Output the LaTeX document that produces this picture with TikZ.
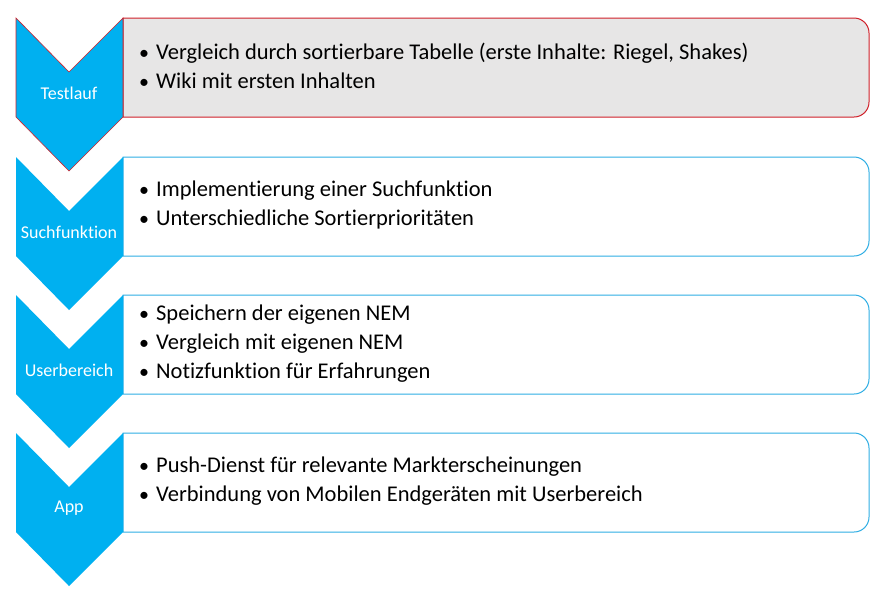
\documentclass[tikz,border=0pt]{standalone}
\usepackage{fontspec}
\setmainfont[Ligatures={NoCommon}]{Carlito}
\definecolor{chev}{HTML}{00B0F0}
\definecolor{boxblue}{HTML}{2FAEE4}
\definecolor{boxred}{HTML}{D0202A}
\definecolor{boxgrey}{HTML}{E7E6E6}
\tikzset{
  chevshape/.style={fill=chev, draw=none},
  boxshape/.style={draw=boxblue, line width=1pt, fill=white},
  boxfirst/.style={draw=boxred, line width=1pt, fill=boxgrey},
  chevlabel/.style={text=white, font=\fontsize{18}{21}\selectfont, anchor=center},
  itemtext/.style={anchor=west, align=left, font=\fontsize{22.5}{29}\selectfont, text=black, inner sep=0pt}
}
\newcommand{\chevpath}[1]{(16,#1) -- (69,#1+54) -- (123,#1) -- (123,#1+99) -- (69,#1+153) -- (16,#1+99) -- cycle}
\newcommand{\boxpath}[1]{(123,#1) {[rounded corners=15] -- (869,#1) -- (869,#1+99)} -- (123,#1+99) -- cycle}
\newcommand{\itm}{{\fontsize{20}{29}\selectfont\textbullet}\hspace{7pt}}
\begin{document}
\begin{tikzpicture}[x=1pt,y=-1pt]
\useasboundingbox (0,0) rectangle (888,603);
\fill[white] (0,0) rectangle (888,603);
% boxes
\draw[boxfirst] \boxpath{18};
\draw[boxshape] \boxpath{157};
\draw[boxshape] \boxpath{295};
\draw[boxshape] \boxpath{433};
% chevrons
\fill[chevshape] \chevpath{18};
\draw[boxred, line width=0.6pt] \chevpath{18};
\fill[chevshape] \chevpath{157};
\fill[chevshape] \chevpath{295};
\fill[chevshape] \chevpath{433};
% labels
\node[chevlabel] (l1) at (69,93) {Testlauf};
\node[chevlabel] (l2) at (69,232) {Suchfunktion};
\node[chevlabel] (l3) at (69,370) {Userbereich};
\node[chevlabel] (l4) at (69,508) {App};
% items
\node[itemtext] (t1) at (139,65.5) {\itm Vergleich durch sortierbare Tabelle (erste Inhalte: Riegel, Shakes)\\\itm Wiki mit ersten Inhalten};
\node[itemtext] (t2) at (139,204.5) {\itm Implementierung einer Suchfunktion\\\itm Unterschiedliche Sortierprioritäten};
\node[itemtext] (t3) at (139,344) {\itm Speichern der eigenen NEM\\\itm Vergleich mit eigenen NEM\\\itm Notizfunktion für Erfahrungen};
\node[itemtext] (t4) at (139,481.5) {\itm Push-Dienst für relevante Markterscheinungen\\\itm Verbindung von Mobilen Endgeräten mit Userbereich};
\end{tikzpicture}
\end{document}
